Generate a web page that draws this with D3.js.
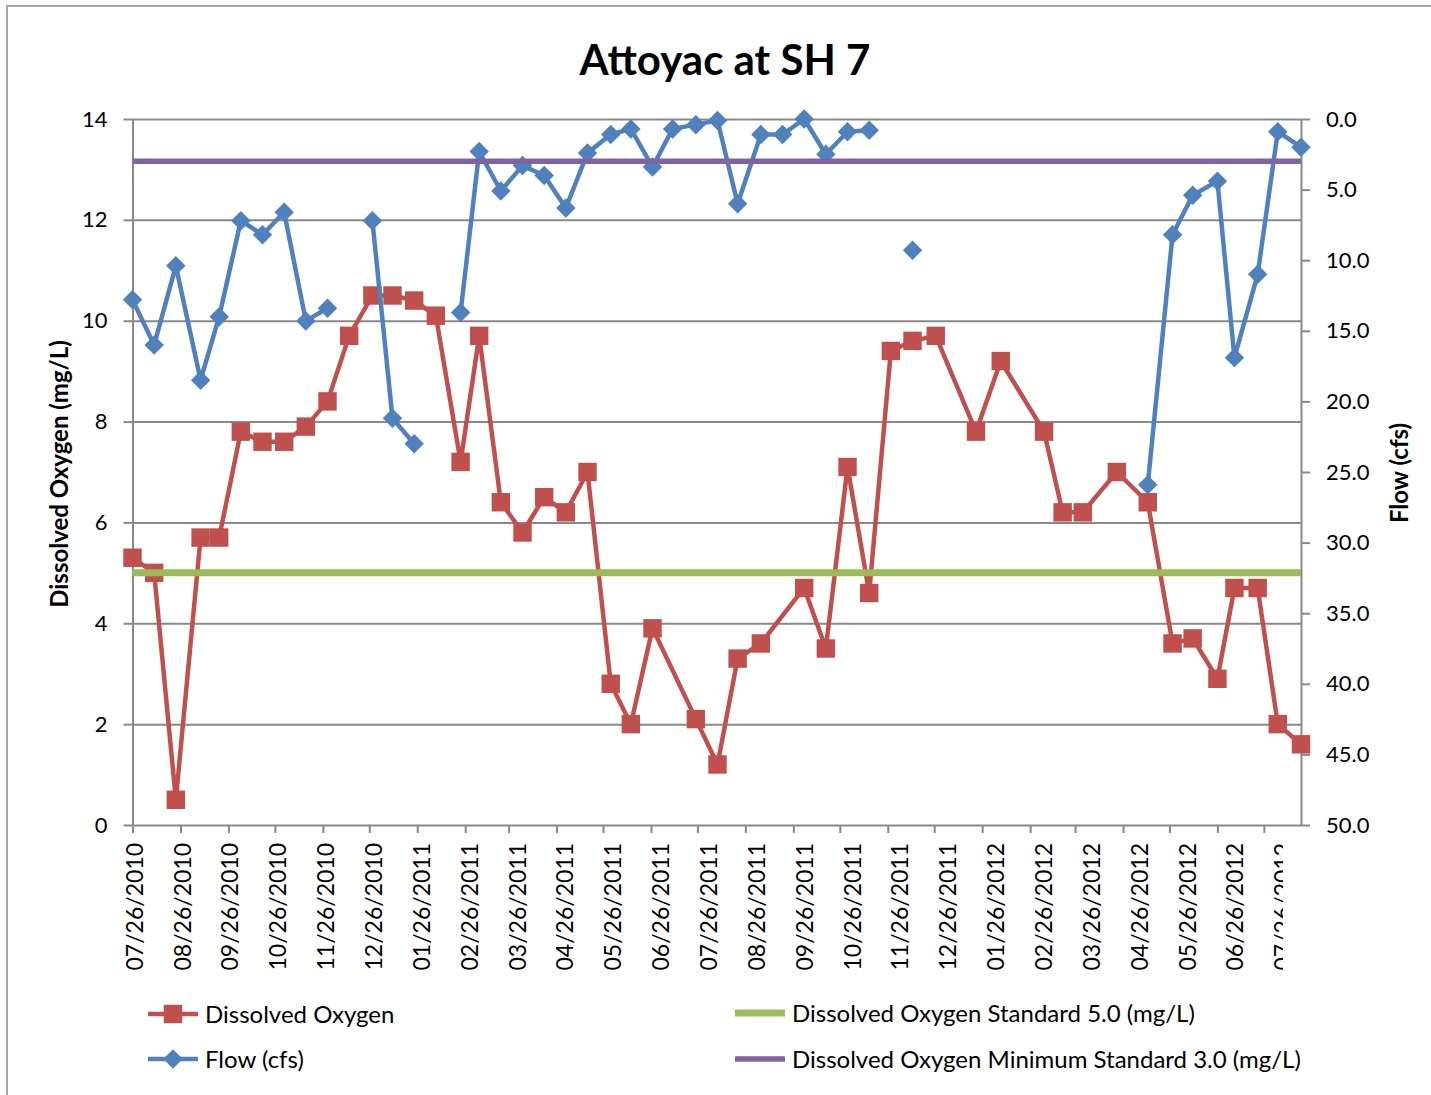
<!DOCTYPE html>
<html>
<head>
<meta charset="utf-8">
<script src="https://cdn.jsdelivr.net/npm/d3@7"></script>
<style>
  body { margin: 0; background: #fff; }
  text { font-family: Lato, "Open Sans", sans-serif; fill: #000; }
</style>
</head>
<body>
<svg id="chart" width="1431" height="1095"></svg>
<script>
// ---- data ----
const doDates = [
  "2010-07-26", "2010-08-09", "2010-08-23", "2010-09-08", "2010-09-20", "2010-10-04", "2010-10-18",
  "2010-11-01", "2010-11-15", "2010-11-29", "2010-12-13", "2010-12-28", "2011-01-10", "2011-01-24",
  "2011-02-07", "2011-02-23", "2011-03-07", "2011-03-21", "2011-04-04", "2011-04-18", "2011-05-02",
  "2011-05-16", "2011-05-31", "2011-06-13", "2011-06-27", "2011-07-25", "2011-08-08", "2011-08-21",
  "2011-09-05", "2011-10-03", "2011-10-17", "2011-10-31", "2011-11-14", "2011-11-28", "2011-12-12",
  "2011-12-27", "2012-01-22", "2012-02-07", "2012-03-06", "2012-03-18", "2012-03-31", "2012-04-22",
  "2012-05-12", "2012-05-28", "2012-06-10", "2012-06-26", "2012-07-07", "2012-07-22", "2012-08-04",
  "2012-08-19",
];
const doValues = [
  5.3, 5.0, 0.5, 5.7, 5.7, 7.8, 7.6, 7.6, 7.9, 8.4,
  9.7, 10.5, 10.5, 10.4, 10.1, 7.2, 9.7, 6.4, 5.8, 6.5,
  6.2, 7.0, 2.8, 2.0, 3.9, 2.1, 1.2, 3.3, 3.6, 4.7,
  3.5, 7.1, 4.6, 9.4, 9.6, 9.7, 7.8, 9.2, 7.8, 6.2,
  6.2, 7.0, 6.4, 3.6, 3.7, 2.9, 4.7, 4.7, 2.0, 1.6,
];

// null = no flow measured (Excel leaves a gap in the line)
const flowDates = [
  "2010-07-26", "2010-08-09", "2010-08-23", "2010-09-08", "2010-09-20", "2010-10-04", "2010-10-18",
  "2010-11-01", "2010-11-15", "2010-11-29", "2010-12-13", "2010-12-28", "2011-01-10", "2011-01-24",
  "2011-02-07", "2011-02-23", "2011-03-07", "2011-03-21", "2011-04-04", "2011-04-18", "2011-05-02",
  "2011-05-16", "2011-05-31", "2011-06-13", "2011-06-27", "2011-07-10", "2011-07-25", "2011-08-08",
  "2011-08-21", "2011-09-05", "2011-09-19", "2011-10-03", "2011-10-17", "2011-10-31", "2011-11-14",
  "2011-11-28", "2011-12-12", "2011-12-27", "2012-05-12", "2012-05-28", "2012-06-10", "2012-06-26",
  "2012-07-07", "2012-07-22", "2012-08-04", "2012-08-19",
];
const flowValues = [
  12.8, 16.0, 10.4, 18.5, 14.0, 7.2, 8.2, 6.6, 14.3, 13.4,
  null, 7.2, 21.2, 23.0, null, 13.7, 2.3, 5.1, 3.3, 4.0,
  6.3, 2.4, 1.1, 0.7, 3.4, 0.7, 0.4, 0.1, 6.0, 1.1,
  1.1, 0.0, 2.5, 0.9, 0.8, null, 9.3, null, 25.9, 8.2,
  5.4, 4.4, 16.9, 11.0, 0.9, 2.0,
];

const doStandard = 5.0;     // plotted on the DO axis
const doMinStandard = 3.0;  // plotted on the flow axis, as in the original workbook

const tickLabels = [
  "07/26/2010", "08/26/2010", "09/26/2010", "10/26/2010", "11/26/2010", "12/26/2010",
  "01/26/2011", "02/26/2011", "03/26/2011", "04/26/2011", "05/26/2011", "06/26/2011",
  "07/26/2011", "08/26/2011", "09/26/2011", "10/26/2011", "11/26/2011", "12/26/2011",
  "01/26/2012", "02/26/2012", "03/26/2012", "04/26/2012", "05/26/2012", "06/26/2012",
  "07/26/2012",
];
const doTicks = [0, 2, 4, 6, 8, 10, 12, 14];
const flowTicks = [0, 5, 10, 15, 20, 25, 30, 35, 40, 45, 50];

const legendLabels = [
  "Dissolved Oxygen",
  "Dissolved Oxygen Standard 5.0 (mg/L)",
  "Flow (cfs)",
  "Dissolved Oxygen Minimum Standard 3.0 (mg/L)",
];

// ---- layout ----
const colors = { red: "#C0504D", blue: "#4F81BD", green: "#9BBB59", purple: "#8064A2", grid: "#898989" };
const plot = { left: 132.5, right: 1301, top: 119, bottom: 825 };

const svg = d3.select("#chart");
const parseDay = d3.timeParse("%Y-%m-%d");
const parseTick = d3.timeParse("%m/%d/%Y");

const x = d3.scaleTime()
  .domain([parseDay(doDates[0]), parseDay(doDates[doDates.length - 1])])
  .range([plot.left, plot.right]);
const yDO = d3.scaleLinear().domain([0, 14]).range([plot.bottom, plot.top]);
const yFlow = d3.scaleLinear().domain([0, 50]).range([plot.top, plot.bottom]);

// chart frame (runs off the right and bottom of the shot)
svg.append("rect")
  .attr("x", 7).attr("y", 6).attr("width", 1440).attr("height", 1110)
  .attr("fill", "none").attr("stroke", "#a6a6a6").attr("stroke-width", 2);

// title
svg.append("text")
  .attr("x", 725).attr("y", 75)
  .attr("text-anchor", "middle")
  .style("font-size", "42px").style("font-weight", "bold")
  .text("Attoyac at SH 7");

// horizontal gridlines
svg.append("g")
  .attr("transform", `translate(${plot.left},0)`)
  .call(d3.axisLeft(yDO).tickValues(doTicks.slice(1)).tickSize(-(plot.right - plot.left)).tickFormat(""))
  .call((g) => g.select(".domain").remove())
  .selectAll("line").attr("stroke", colors.grid).attr("stroke-width", 2);

function styleAxis(g) {
  g.selectAll("path, line").attr("stroke", colors.grid).attr("stroke-width", 2);
  g.selectAll("text").style("font-size", "22px").attr("fill", "#000");
}

// left axis
svg.append("g")
  .attr("transform", `translate(${plot.left},0)`)
  .call(d3.axisLeft(yDO).tickValues(doTicks).tickSize(9).tickSizeOuter(0).tickPadding(16))
  .call(styleAxis)
  .call((g) => g.selectAll("text").attr("font-family", null));

// right axis
svg.append("g")
  .attr("transform", `translate(${plot.right},0)`)
  .call(d3.axisRight(yFlow).tickValues(flowTicks).tickFormat(d3.format(".1f")).tickSize(9).tickSizeOuter(0).tickPadding(16))
  .call(styleAxis);

// bottom axis: ticks on the real dates
const tickDates = tickLabels.map(parseTick);
svg.append("g")
  .attr("transform", `translate(0,${plot.bottom})`)
  .call(d3.axisBottom(x).tickValues(tickDates).tickSize(8).tickSizeOuter(0).tickFormat(""))
  .call(styleAxis);

// Excel spaces the date labels evenly, slightly off the ticks; last one is clipped
const labelX = d3.scalePoint().domain(tickLabels).range([134.4, 1283]);
svg.append("clipPath").attr("id", "labelClip")
  .append("rect").attr("x", 0).attr("y", 830).attr("width", 1283).attr("height", 160);
svg.append("g")
  .attr("clip-path", "url(#labelClip)")
  .selectAll("text")
  .data(tickLabels)
  .join("text")
  .attr("transform", (d) => `translate(${labelX(d)},843) rotate(-90)`)
  .attr("dy", "0.36em")
  .attr("text-anchor", "end")
  .style("font-size", "23px")
  .text((d) => d);

// axis titles
svg.append("text")
  .attr("transform", `translate(68,474) rotate(-90)`)
  .attr("text-anchor", "middle")
  .style("font-size", "24px").style("font-weight", "bold")
  .text("Dissolved Oxygen (mg/L)");
svg.append("text")
  .attr("transform", `translate(1408,473) rotate(-90)`)
  .attr("text-anchor", "middle")
  .style("font-size", "24px").style("font-weight", "bold")
  .text("Flow (cfs)");

// ---- series ----
const doData = doDates.map((d, i) => ({ date: parseDay(d), value: doValues[i] }));
const flowData = flowDates.map((d, i) => ({ date: parseDay(d), value: flowValues[i] }));

const squareMark = d3.symbol(d3.symbolSquare, 340);
const diamondMark = d3.symbol(d3.symbolSquare, 190);

// dissolved oxygen
svg.append("path")
  .datum(doData)
  .attr("fill", "none").attr("stroke", colors.red).attr("stroke-width", 4.5).attr("stroke-linejoin", "round")
  .attr("d", d3.line().x((d) => x(d.date)).y((d) => yDO(d.value)));
svg.append("g").selectAll("path")
  .data(doData)
  .join("path")
  .attr("transform", (d) => `translate(${x(d.date)},${yDO(d.value)})`)
  .attr("d", squareMark)
  .attr("fill", colors.red);

// DO standard 5.0
const span = x.domain();
svg.append("path")
  .datum(span)
  .attr("stroke", colors.green).attr("stroke-width", 7)
  .attr("d", d3.line().x((d) => x(d)).y(() => yDO(doStandard)));

// flow
svg.append("path")
  .datum(flowData)
  .attr("fill", "none").attr("stroke", colors.blue).attr("stroke-width", 4.5).attr("stroke-linejoin", "round")
  .attr("d", d3.line().defined((d) => d.value !== null).x((d) => x(d.date)).y((d) => yFlow(d.value)));
svg.append("g").selectAll("path")
  .data(flowData.filter((d) => d.value !== null))
  .join("path")
  .attr("transform", (d) => `translate(${x(d.date)},${yFlow(d.value)}) rotate(45)`)
  .attr("d", diamondMark)
  .attr("fill", colors.blue);

// DO minimum standard 3.0 (secondary axis)
svg.append("path")
  .datum(span)
  .attr("stroke", colors.purple).attr("stroke-width", 5.5)
  .attr("d", d3.line().x((d) => x(d)).y(() => yFlow(doMinStandard)));

// ---- legend ----
const legendItems = [
  { label: legendLabels[0], color: colors.red, mark: "square", x: 148, y: 1014, width: 4.5 },
  { label: legendLabels[1], color: colors.green, mark: null, x: 735, y: 1013, width: 7 },
  { label: legendLabels[2], color: colors.blue, mark: "diamond", x: 148, y: 1059, width: 4.5 },
  { label: legendLabels[3], color: colors.purple, mark: null, x: 735, y: 1059, width: 5.5 },
];
const legend = svg.append("g").selectAll("g").data(legendItems).join("g")
  .attr("transform", (d) => `translate(${d.x},${d.y})`);
legend.append("line")
  .attr("x1", 0).attr("x2", 50)
  .attr("stroke", (d) => d.color).attr("stroke-width", (d) => d.width);
legend.filter((d) => d.mark === "square").append("path")
  .attr("transform", "translate(25,0)")
  .attr("d", squareMark).attr("fill", (d) => d.color);
legend.filter((d) => d.mark === "diamond").append("path")
  .attr("transform", "translate(25,0) rotate(45)")
  .attr("d", diamondMark).attr("fill", (d) => d.color);
legend.append("text")
  .attr("x", 57).attr("dy", "0.36em")
  .style("font-size", "24px")
  .text((d) => d.label);
</script>
</body>
</html>
